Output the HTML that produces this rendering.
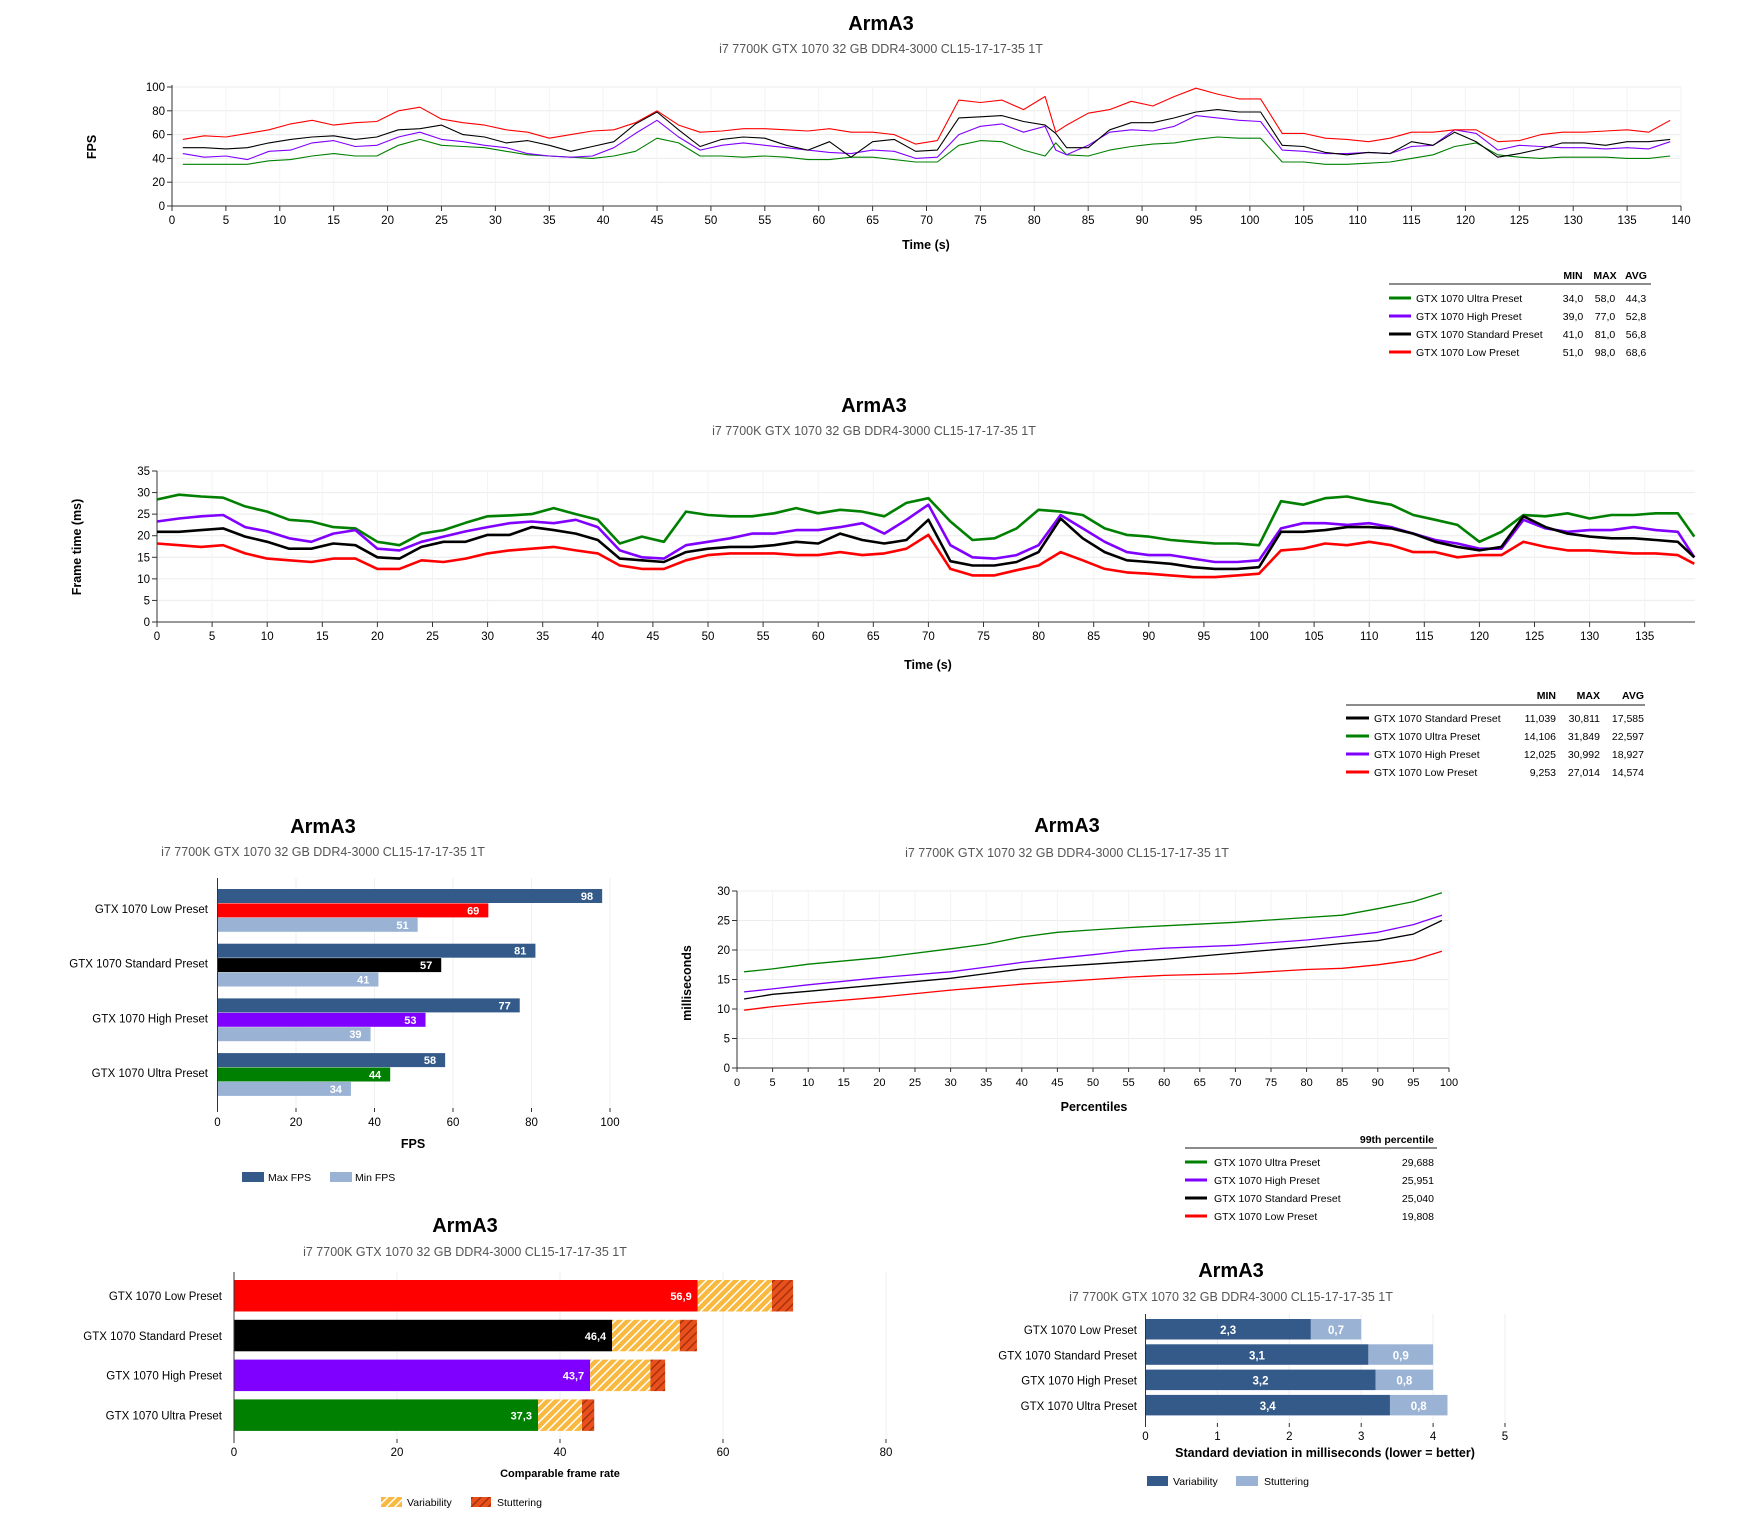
<!DOCTYPE html>
<html><head><meta charset="utf-8">
<style>
html,body{margin:0;padding:0;background:#fff;}
svg{display:block;font-family:"Liberation Sans",sans-serif;}
.t{font-size:20px;font-weight:bold;fill:#000;text-anchor:middle}
.st{font-size:12.5px;fill:#555;text-anchor:middle}
.tk{font-size:11.5px;fill:#000}
.at{font-size:12.5px;font-weight:bold;fill:#000}
.lg{font-size:10.5px;fill:#000}
</style></head>
<body>
<svg id="s" width="1740" height="1520" viewBox="0 0 1740 1520" xmlns="http://www.w3.org/2000/svg">
<defs>
<pattern id="hv" patternUnits="userSpaceOnUse" width="6" height="6" patternTransform="rotate(45)"><rect width="6" height="6" fill="#f9b940"/><rect width="1.5" height="6" fill="#fff"/></pattern>
<pattern id="hs" patternUnits="userSpaceOnUse" width="6" height="6" patternTransform="rotate(45)"><rect width="6" height="6" fill="#e8501c"/><rect width="1.5" height="6" fill="#a8300c"/></pattern>
</defs>
</svg>
<script>
// ---- Chart 1: FPS over time (sampled every 2 s from t=1) ----
const fpsTimes=[1,3,5,7,9,11,13,15,17,19,21,23,25,27,29,31,33,35,37,39,41,43,45,47,49,51,53,55,57,59,61,63,65,67,69,71,73,75,77,79,81,82,83,85,87,89,91,93,95,97,99,101,103,105,107,109,111,113,115,117,119,121,123,125,127,129,131,133,135,137,139];
const fpsLow=[56,59,58,61,64,69,72,68,70,71,80,83,73,70,68,64,62,57,60,63,64,70,80,68,62,63,65,65,64,63,65,62,62,60,52,55,89,87,89,81,92,62,68,78,81,88,84,92,99,94,90,90,61,61,57,56,54,57,62,62,64,64,54,55,60,62,62,63,64,62,72];
const fpsStd=[49,49,48,49,53,56,58,59,56,58,64,65,68,60,58,53,55,51,46,50,54,69,79,64,50,56,58,57,51,47,54,41,54,56,46,47,74,75,76,71,68,61,49,49,64,70,70,74,79,81,79,79,51,50,45,43,45,44,54,51,62,54,41,44,48,53,53,51,54,54,56];
const fpsHigh=[44,41,42,39,46,47,53,55,50,51,58,62,56,54,51,49,44,42,41,42,49,61,72,58,47,51,53,51,49,47,45,44,47,46,40,41,60,67,69,62,67,47,43,51,62,64,63,67,76,74,72,71,47,46,44,44,45,44,50,51,64,61,47,51,50,49,49,48,49,48,54];
const fpsUltra=[35,35,35,35,38,39,42,44,42,42,51,56,51,50,49,46,43,42,41,40,42,46,57,53,42,42,41,42,41,39,39,41,41,39,37,37,51,55,54,47,42,53,43,42,47,50,52,53,56,58,57,57,37,37,35,35,36,37,40,43,50,53,43,41,40,41,41,41,40,40,42];
const fpsTicksX=[0,5,10,15,20,25,30,35,40,45,50,55,60,65,70,75,80,85,90,95,100,105,110,115,120,125,130,135,140];
const fpsTicksY=[0,20,40,60,80,100];
const fpsLegendNames=["GTX 1070 Ultra Preset","GTX 1070 High Preset","GTX 1070 Standard Preset","GTX 1070 Low Preset"];
const fpsLegendStats=[["34,0","58,0","44,3"],["39,0","77,0","52,8"],["41,0","81,0","56,8"],["51,0","98,0","68,6"]];

// ---- Chart 2: frame time (sampled every 2 s) ----
const ftTimes=[0,2,4,6,8,10,12,14,16,18,20,22,24,26,28,30,32,34,36,38,40,42,44,46,48,50,52,54,56,58,60,62,64,66,68,70,72,74,76,78,80,82,84,86,88,90,92,94,96,98,100,102,104,106,108,110,112,114,116,118,120,122,124,126,128,130,132,134,136,138,139.5];
const ftUltra=[28.4,29.5,29.1,28.8,26.8,25.6,23.7,23.3,22,21.7,18.6,17.8,20.5,21.3,23,24.5,24.7,25,26.4,25,23.7,18.2,19.8,18.6,25.6,24.8,24.5,24.5,25.2,26.4,25.2,26,25.6,24.5,27.6,28.7,23.3,19,19.4,21.7,26,25.6,24.8,21.7,20.2,19.8,19,18.6,18.2,18.2,17.8,28,27.2,28.7,29.1,28,27.2,24.8,23.7,22.5,18.6,20.9,24.8,24.5,25.2,24,24.8,24.8,25.2,25.2,19.8];
const ftHigh=[23.3,24,24.5,24.8,22,21,19.4,18.6,20.5,21.3,17,16.6,18.6,19.8,21,22,22.9,23.3,22.9,23.7,22,16.6,15,14.7,17.8,18.6,19.4,20.5,20.5,21.3,21.3,22,22.9,20.5,23.7,27.2,17.8,15,14.7,15.5,17.8,24.8,21.7,18.6,16.2,15.5,15.5,14.7,13.9,13.9,14.3,21.7,22.9,22.9,22.5,22.9,22,20.5,19,18.2,17,17,23.7,21.7,20.9,21.3,21.3,22,21.3,20.9,15];
const ftStd=[20.9,20.9,21.3,21.7,19.8,18.6,17,17,18.2,17.8,15,14.7,17.4,18.6,18.6,20.2,20.2,22,21.3,20.5,19,14.7,14.3,13.9,16.2,17,17.4,17.4,17.8,18.6,18.2,20.5,19,18.2,19,23.7,14.1,13.1,13.1,13.9,16.2,24,19.4,16.2,14.3,13.9,13.5,12.7,12.3,12.3,12.7,20.9,20.9,21.3,22,22,21.7,20.5,18.6,17.4,16.6,17.4,24.5,22,20.5,19.8,19.4,19.4,19,18.6,15];
const ftLow=[18.2,17.8,17.4,17.8,15.9,14.7,14.3,13.9,14.7,14.7,12.3,12.3,14.3,13.9,14.7,15.9,16.6,17,17.4,16.6,15.9,13.1,12.3,12.3,14.3,15.5,15.9,15.9,15.9,15.5,15.5,16.2,15.5,15.9,17,20.2,12.3,10.8,10.8,12,13.1,16.2,14.3,12.3,11.5,11.2,10.8,10.4,10.4,10.8,11.2,16.6,17,18.2,17.8,18.6,17.8,16.2,16.2,15,15.5,15.5,18.6,17.4,16.6,16.6,16.2,15.9,15.9,15.5,13.5];
const ftTicksX=[0,5,10,15,20,25,30,35,40,45,50,55,60,65,70,75,80,85,90,95,100,105,110,115,120,125,130,135];
const ftTicksY=[0,5,10,15,20,25,30,35];
const ftLegendNames=["GTX 1070 Standard Preset","GTX 1070 Ultra Preset","GTX 1070 High Preset","GTX 1070 Low Preset"];
const ftLegendStats=[["11,039","30,811","17,585"],["14,106","31,849","22,597"],["12,025","30,992","18,927"],["9,253","27,014","14,574"]];

// ---- Chart 3: FPS bars ----
const barCats=["GTX 1070 Low Preset","GTX 1070 Standard Preset","GTX 1070 High Preset","GTX 1070 Ultra Preset"];
const barMax=[98,81,77,58];
const barAvg=[69,57,53,44];
const barMin=[51,41,39,34];
const barTicks=[0,20,40,60,80,100];

// ---- Chart 4: percentiles ----
const pctX=[1,5,10,20,30,35,40,45,50,55,60,70,80,85,90,95,99];
const pctUltra=[16.3,16.8,17.6,18.7,20.2,21,22.2,23,23.4,23.8,24.1,24.7,25.5,25.9,27,28.2,29.7];
const pctHigh=[12.9,13.4,14.1,15.3,16.3,17.1,17.9,18.6,19.2,19.9,20.3,20.8,21.7,22.3,23,24.3,25.9];
const pctStd=[11.7,12.5,13,14.1,15.2,16,16.8,17.2,17.6,18,18.4,19.5,20.5,21.1,21.6,22.7,25];
const pctLow=[9.8,10.4,11,12,13.2,13.7,14.2,14.6,15,15.4,15.7,16,16.7,16.9,17.5,18.3,19.8];
const pctTicksX=[0,5,10,15,20,25,30,35,40,45,50,55,60,65,70,75,80,85,90,95,100];
const pctTicksY=[0,5,10,15,20,25,30];
const pctLegendNames=["GTX 1070 Ultra Preset","GTX 1070 High Preset","GTX 1070 Standard Preset","GTX 1070 Low Preset"];
const pctLegendVals=["29,688","25,951","25,040","19,808"];

// ---- Chart 5: comparable frame rate ----
const cfrCats=["GTX 1070 Low Preset","GTX 1070 Standard Preset","GTX 1070 High Preset","GTX 1070 Ultra Preset"];
const cfrBase=[56.9,46.4,43.7,37.3];
const cfrVarEnd=[66.0,54.7,51.1,42.7];
const cfrTotal=[68.6,56.8,52.9,44.2];
const cfrLabels=["56,9","46,4","43,7","37,3"];
const cfrTicks=[0,20,40,60,80];

// ---- Chart 6: std deviation ----
const sdCats=["GTX 1070 Low Preset","GTX 1070 Standard Preset","GTX 1070 High Preset","GTX 1070 Ultra Preset"];
const sdVar=[2.3,3.1,3.2,3.4];
const sdStut=[0.7,0.9,0.8,0.8];
const sdVarLabels=["2,3","3,1","3,2","3,4"];
const sdStutLabels=["0,7","0,9","0,8","0,8"];
const sdTicks=[0,1,2,3,4,5];

const svg=document.getElementById('s');
const NS='http://www.w3.org/2000/svg';
function mk(tag,attrs,parent,text){const e=document.createElementNS(NS,tag);for(const k in attrs)e.setAttribute(k,attrs[k]);if(text!==undefined)e.textContent=text;(parent||svg).appendChild(e);return e;}
function grp(name){const g=mk('g',{});return g;}
function txt(g,x,y,s,cls,anchor,name){const e=mk('text',{x:x,y:y,class:cls,'text-anchor':anchor||'start'},g,s);return e;}
const GREEN='#008000',PURPLE='#8000ff',BLACK='#000000',RED='#ff0000',DARKB='#345a8a',LIGHTB='#9ab3d5';

function titles(g,cx,y1,y2){
  txt(g,cx,y1,'ArmA3','t','middle','chart-title');
  txt(g,cx,y2,'i7 7700K GTX 1070 32 GB DDR4-3000 CL15-17-17-35 1T','st','middle','chart-subtitle');
}
function polyline(g,xs,ys,fx,fy,color,w,name){
  let d='';for(let i=0;i<xs.length;i++)d+=(i?'L':'M')+fx(xs[i]).toFixed(1)+','+fy(ys[i]).toFixed(1);
  const p=mk('path',{d:d,fill:'none',stroke:color,'stroke-width':w,'stroke-linejoin':'round'},g);
  
}

// ================= Chart 1 =================
(function(){
  const g=grp('fps-chart');
  titles(g,881,30,53);
  const X0=172,X1=1681,Y0=206,Y1=87;
  const fx=t=>X0+(X1-X0)*t/140, fy=v=>Y0-(Y0-Y1)*v/100;
  fpsTicksY.forEach(v=>{if(v>0)mk('line',{x1:X0,x2:X1,y1:fy(v),y2:fy(v),stroke:'#ececec'},g);
    mk('line',{x1:X0-5,x2:X0,y1:fy(v),y2:fy(v),stroke:'#333'},g);
    txt(g,X0-7,fy(v)+4,String(v),'tk','end','y-tick-label');});
  fpsTicksX.forEach(t=>{if(t>0)mk('line',{x1:fx(t),x2:fx(t),y1:Y1,y2:Y0,stroke:'#f3f3f3'},g);
    mk('line',{x1:fx(t),x2:fx(t),y1:Y0,y2:Y0+5,stroke:'#333'},g);
    txt(g,fx(t),Y0+18,String(t),'tk','middle','x-tick-label');});
  mk('line',{x1:X0,x2:X0,y1:Y1-2,y2:Y0,stroke:'#333'},g);
  mk('line',{x1:X0,x2:X1,y1:Y0,y2:Y0,stroke:'#333'},g);
  txt(g,926,249,'Time (s)','at','middle','x-axis-title');
  const yt=txt(g,0,0,'FPS','at','middle','y-axis-title');yt.setAttribute('transform','translate(96,147) rotate(-90)');
  polyline(g,fpsTimes,fpsUltra,fx,fy,GREEN,1.1,'line-ultra');
  polyline(g,fpsTimes,fpsHigh,fx,fy,PURPLE,1.1,'line-high');
  polyline(g,fpsTimes,fpsStd,fx,fy,BLACK,1.1,'line-standard');
  polyline(g,fpsTimes,fpsLow,fx,fy,RED,1.1,'line-low');
  const lg=grp('fps-legend');
  const cols=[1573,1605,1636];
  txt(lg,cols[0],279,'MIN','lg','middle','legend-header').setAttribute('font-weight','bold');
  txt(lg,cols[1],279,'MAX','lg','middle','legend-header').setAttribute('font-weight','bold');
  txt(lg,cols[2],279,'AVG','lg','middle','legend-header').setAttribute('font-weight','bold');
  mk('line',{x1:1389,x2:1651,y1:284,y2:284,stroke:'#666','stroke-width':1.5},lg);
  const cs=[GREEN,PURPLE,BLACK,RED];
  fpsLegendNames.forEach((n,i)=>{const y=298+i*18;
    const e=mk('g',{},lg);
    mk('rect',{x:1389,y:y-1.5,width:22,height:3,fill:cs[i]},e);
    txt(e,1416,y+4,n,'lg','start','legend-label');
    fpsLegendStats[i].forEach((s,j)=>txt(e,cols[j],y+4,s,'lg','middle','legend-value'));});
})();

// ================= Chart 2 =================
(function(){
  const g=grp('frametime-chart');
  titles(g,874,412,435);
  const X0=157,X1=1695,Y0=622,Y1=471;
  const fx=t=>X0+11.02*t, fy=v=>Y0-(Y0-Y1)*v/35;
  ftTicksY.forEach(v=>{if(v>0)mk('line',{x1:X0,x2:X1,y1:fy(v),y2:fy(v),stroke:'#ececec'},g);
    mk('line',{x1:X0-5,x2:X0,y1:fy(v),y2:fy(v),stroke:'#333'},g);
    txt(g,X0-7,fy(v)+4,String(v),'tk','end','y-tick-label');});
  ftTicksX.forEach(t=>{if(t>0)mk('line',{x1:fx(t),x2:fx(t),y1:Y1,y2:Y0,stroke:'#f3f3f3'},g);
    mk('line',{x1:fx(t),x2:fx(t),y1:Y0,y2:Y0+5,stroke:'#333'},g);
    txt(g,fx(t),Y0+18,String(t),'tk','middle','x-tick-label');});
  mk('line',{x1:X0,x2:X0,y1:Y1,y2:Y0,stroke:'#333'},g);
  mk('line',{x1:X0,x2:X1,y1:Y0,y2:Y0,stroke:'#333'},g);
  txt(g,928,669,'Time (s)','at','middle','x-axis-title');
  const yt=txt(g,0,0,'Frame time (ms)','at','middle','y-axis-title');yt.setAttribute('transform','translate(81,547) rotate(-90)');
  polyline(g,ftTimes,ftUltra,fx,fy,GREEN,2.6,'line-ultra');
  polyline(g,ftTimes,ftHigh,fx,fy,PURPLE,2.6,'line-high');
  polyline(g,ftTimes,ftStd,fx,fy,BLACK,2.6,'line-standard');
  polyline(g,ftTimes,ftLow,fx,fy,RED,2.6,'line-low');
  const lg=grp('frametime-legend');
  const cols=[1556,1600,1644];
  ['MIN','MAX','AVG'].forEach((h,j)=>txt(lg,cols[j],699,h,'lg','end','legend-header').setAttribute('font-weight','bold'));
  mk('line',{x1:1346,x2:1645,y1:705,y2:705,stroke:'#666','stroke-width':1.5},lg);
  const cs=[BLACK,GREEN,PURPLE,RED];
  ftLegendNames.forEach((n,i)=>{const y=718+i*18;
    const e=mk('g',{},lg);
    mk('rect',{x:1346,y:y-1.5,width:23,height:3,fill:cs[i]},e);
    txt(e,1374,y+4,n,'lg','start','legend-label');
    ftLegendStats[i].forEach((s,j)=>txt(e,cols[j],y+4,s,'lg','end','legend-value'));});
})();

// ================= Chart 3 =================
(function(){
  const g=grp('fps-bar-chart');
  titles(g,323,833,856);
  const X0=217.5,Yt=878,Yb=1108;
  const fx=v=>X0+3.925*v;
  barTicks.forEach(v=>{if(v>0)mk('line',{x1:fx(v),x2:fx(v),y1:Yt,y2:Yb,stroke:'#efefef'},g);
    mk('line',{x1:fx(v),x2:fx(v),y1:Yb,y2:Yb+4,stroke:'#333'},g);
    txt(g,fx(v),Yb+18,String(v),'tk','middle','x-tick-label');});
  const cs=[RED,BLACK,PURPLE,GREEN];
  barCats.forEach((c,i)=>{const y=889+i*54.7;
    txt(g,208,y+24,c,'tk','end','category-label');
    const sets=[[barMax[i],DARKB,'bar-max-fps'],[barAvg[i],cs[i],'bar-avg-fps'],[barMin[i],LIGHTB,'bar-min-fps']];
    sets.forEach((s,k)=>{const yy=y+k*14.4;
      const r=mk('rect',{x:X0,y:yy,width:fx(s[0])-X0,height:14,fill:s[1]},g);
      
      const t=txt(g,fx(s[0])-9,yy+11,String(s[0]),'tk','end','bar-value');t.setAttribute('style','fill:#fff;font-weight:bold;font-size:11px');});
  });
  mk('line',{x1:X0,x2:X0,y1:Yt,y2:Yb,stroke:'#333'},g);
  txt(g,413,1148,'FPS','at','middle','x-axis-title');
  const lg=grp('fps-bar-legend');
  mk('rect',{x:242,y:1172,width:22,height:10,fill:DARKB},lg);
  txt(lg,268,1181,'Max FPS','lg','start','legend-label');
  mk('rect',{x:330,y:1172,width:22,height:10,fill:LIGHTB},lg);
  txt(lg,355,1181,'Min FPS','lg','start','legend-label');
})();

// ================= Chart 4 =================
(function(){
  const g=grp('percentile-chart');
  titles(g,1067,832,857);
  const X0=737,X1=1449,Y0=1068,Y1=891;
  const fx=p=>X0+(X1-X0)*p/100, fy=v=>Y0-(Y0-Y1)*v/30;
  pctTicksY.forEach(v=>{if(v>0)mk('line',{x1:X0,x2:X1,y1:fy(v),y2:fy(v),stroke:'#ececec'},g);
    mk('line',{x1:X0-5,x2:X0,y1:fy(v),y2:fy(v),stroke:'#333'},g);
    txt(g,X0-7,fy(v)+4,String(v),'tk','end','y-tick-label');});
  pctTicksX.forEach(t=>{if(t>0)mk('line',{x1:fx(t),x2:fx(t),y1:Y1,y2:Y0,stroke:'#f3f3f3'},g);
    mk('line',{x1:fx(t),x2:fx(t),y1:Y0,y2:Y0+4,stroke:'#333'},g);
    const e=txt(g,fx(t),Y0+18,String(t),'tk','middle','x-tick-label');e.setAttribute('style','font-size:11px');});
  mk('line',{x1:X0,x2:X0,y1:Y1,y2:Y0,stroke:'#333'},g);
  mk('line',{x1:X0,x2:X1,y1:Y0,y2:Y0,stroke:'#333'},g);
  txt(g,1094,1111,'Percentiles','at','middle','x-axis-title');
  const yt=txt(g,0,0,'milliseconds','at','middle','y-axis-title');yt.setAttribute('transform','translate(691,983) rotate(-90)');
  polyline(g,pctX,pctUltra,fx,fy,GREEN,1.3,'line-ultra');
  polyline(g,pctX,pctHigh,fx,fy,PURPLE,1.3,'line-high');
  polyline(g,pctX,pctStd,fx,fy,BLACK,1.3,'line-standard');
  polyline(g,pctX,pctLow,fx,fy,RED,1.3,'line-low');
  const lg=grp('percentile-legend');
  txt(lg,1434,1143,'99th percentile','lg','end','legend-header').setAttribute('font-weight','bold');
  mk('line',{x1:1185,x2:1437,y1:1148,y2:1148,stroke:'#666','stroke-width':1.5},lg);
  const cs=[GREEN,PURPLE,BLACK,RED];
  pctLegendNames.forEach((n,i)=>{const y=1162+i*18;
    const e=mk('g',{},lg);
    mk('rect',{x:1185,y:y-1.5,width:22,height:3,fill:cs[i]},e);
    txt(e,1214,y+4,n,'lg','start','legend-label');
    txt(e,1434,y+4,pctLegendVals[i],'lg','end','legend-value');});
})();

// ================= Chart 5 =================
(function(){
  const g=grp('comparable-framerate-chart');
  titles(g,465,1232,1256);
  const X0=234,Yt=1272,Yb=1439;
  const fx=v=>X0+8.15*v;
  cfrTicks.forEach(v=>{if(v>0)mk('line',{x1:fx(v),x2:fx(v),y1:Yt,y2:Yb,stroke:'#efefef'},g);
    mk('line',{x1:fx(v),x2:fx(v),y1:Yb,y2:Yb+4,stroke:'#333'},g);
    txt(g,fx(v),Yb+17,String(v),'tk','middle','x-tick-label');});
  const cs=[RED,BLACK,PURPLE,GREEN];
  cfrCats.forEach((c,i)=>{const y=1280+i*39.8;
    txt(g,222,y+20,c,'tk','end','category-label');
    let r=mk('rect',{x:X0,y:y,width:fx(cfrBase[i])-X0,height:31.5,fill:cs[i]},g);
    
    r=mk('rect',{x:fx(cfrBase[i]),y:y,width:fx(cfrVarEnd[i])-fx(cfrBase[i]),height:31.5,fill:'url(#hv)'},g);
    
    r=mk('rect',{x:fx(cfrVarEnd[i]),y:y,width:fx(cfrTotal[i])-fx(cfrVarEnd[i]),height:31.5,fill:'url(#hs)'},g);
    
    const t=txt(g,fx(cfrBase[i])-6,y+20,cfrLabels[i],'tk','end','bar-value');t.setAttribute('style','fill:#fff;font-weight:bold;font-size:11px');
  });
  mk('line',{x1:X0,x2:X0,y1:Yt,y2:Yb,stroke:'#333'},g);
  const at=txt(g,560,1477,'Comparable frame rate','at','middle','x-axis-title');at.setAttribute('style','font-size:11px');
  const lg=grp('comparable-framerate-legend');
  mk('rect',{x:381,y:1497,width:21,height:10,fill:'url(#hv)'},lg);
  txt(lg,407,1506,'Variability','lg','start','legend-label');
  mk('rect',{x:471,y:1497,width:20,height:10,fill:'url(#hs)'},lg);
  txt(lg,497,1506,'Stuttering','lg','start','legend-label');
})();

// ================= Chart 6 =================
(function(){
  const g=grp('stddev-chart');
  titles(g,1231,1277,1301);
  const X0=1145.5,Yt=1314,Yb=1423;
  const fx=v=>X0+71.9*v;
  sdTicks.forEach(v=>{if(v>0)mk('line',{x1:fx(v),x2:fx(v),y1:Yt,y2:Yb,stroke:'#efefef'},g);
    mk('line',{x1:fx(v),x2:fx(v),y1:Yb,y2:Yb+4,stroke:'#333'},g);
    txt(g,fx(v),Yb+17,String(v),'tk','middle','x-tick-label');});
  sdCats.forEach((c,i)=>{const y=1319+i*25.3;
    txt(g,1137,y+15,c,'tk','end','category-label');
    let r=mk('rect',{x:X0,y:y,width:fx(sdVar[i])-X0,height:20.5,fill:DARKB},g);
    
    r=mk('rect',{x:fx(sdVar[i]),y:y,width:fx(sdVar[i]+sdStut[i])-fx(sdVar[i]),height:20.5,fill:LIGHTB},g);
    
    let t=txt(g,(X0+fx(sdVar[i]))/2,y+15,sdVarLabels[i],'tk','middle','bar-value');t.setAttribute('style','fill:#fff;font-weight:bold');
    t=txt(g,(fx(sdVar[i])+fx(sdVar[i]+sdStut[i]))/2,y+15,sdStutLabels[i],'tk','middle','bar-value');t.setAttribute('style','fill:#fff;font-weight:bold');
  });
  mk('line',{x1:X0,x2:X0,y1:Yt,y2:Yb,stroke:'#333'},g);
  txt(g,1325,1457,'Standard deviation in milliseconds (lower = better)','at','middle','x-axis-title');
  const lg=grp('stddev-legend');
  mk('rect',{x:1147,y:1476,width:21,height:10,fill:DARKB},lg);
  txt(lg,1173,1485,'Variability','lg','start','legend-label');
  mk('rect',{x:1236,y:1476,width:22,height:10,fill:LIGHTB},lg);
  txt(lg,1264,1485,'Stuttering','lg','start','legend-label');
})();
</script>
</body></html>
